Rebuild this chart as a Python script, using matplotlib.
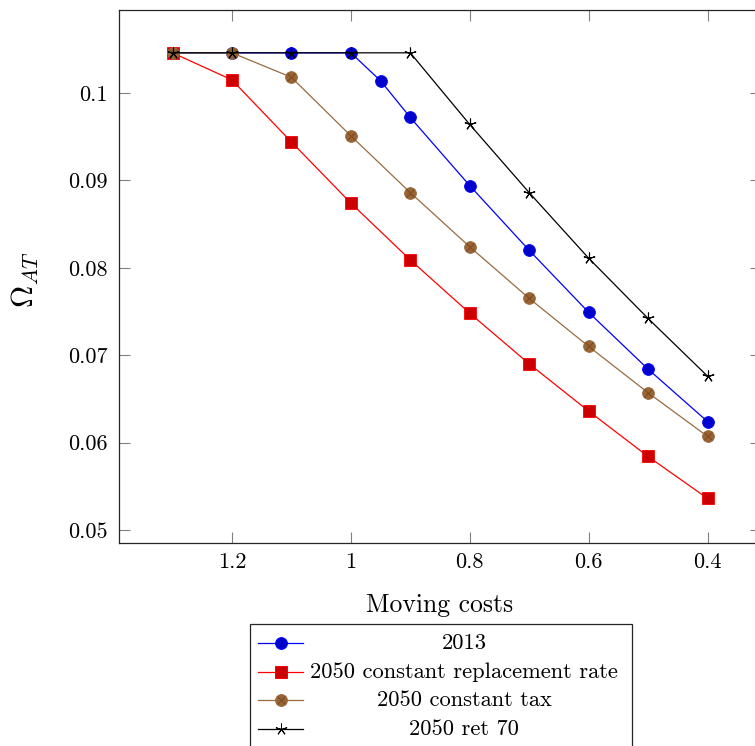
import matplotlib
matplotlib.use("Agg")
import matplotlib.pyplot as plt
from matplotlib.lines import Line2D
from matplotlib.patches import Rectangle

plt.rcParams['font.family'] = ['cmr10', 'DejaVu Serif']
plt.rcParams['mathtext.fontset'] = 'cm'
plt.rcParams['axes.formatter.use_mathtext'] = True

# ---- data ----
x_2013 = [1.3, 1.2, 1.1, 1.0, 0.95, 0.9, 0.8, 0.7, 0.6, 0.5, 0.4]
y_2013 = [0.1046, 0.1046, 0.1046, 0.1046, 0.1014, 0.0972, 0.0894, 0.0820, 0.0749, 0.0684, 0.0624]

x_rr = [1.3, 1.2, 1.1, 1.0, 0.9, 0.8, 0.7, 0.6, 0.5, 0.4]
y_rr = [0.1046, 0.1015, 0.0944, 0.0874, 0.0809, 0.0748, 0.0690, 0.0636, 0.0584, 0.0536]

x_tax = [1.3, 1.2, 1.1, 1.0, 0.9, 0.8, 0.7, 0.6, 0.5, 0.4]
y_tax = [0.1046, 0.1046, 0.1018, 0.0951, 0.0886, 0.0824, 0.0765, 0.0710, 0.0657, 0.0607]

x_r70 = [1.3, 1.2, 1.1, 1.0, 0.9, 0.8, 0.7, 0.6, 0.5, 0.4]
y_r70 = [0.1046, 0.1046, 0.1046, 0.1046, 0.1046, 0.0964, 0.0886, 0.0811, 0.0742, 0.0676]

labels = ['2013', '2050 constant replacement rate', '2050 constant tax', '2050 ret 70']
xticks = [1.2, 1.0, 0.8, 0.6, 0.4]
xticklabels = ['1.2', '1', '0.8', '0.6', '0.4']
yticks = [0.05, 0.06, 0.07, 0.08, 0.09, 0.1]
yticklabels = ['0.05', '0.06', '0.07', '0.08', '0.09', '0.1']

# ---- styles ----
BLUE, BLUE_F = (0, 0, 1), (0, 0, 0.8)
RED, RED_F = (1, 0, 0), (0.8, 0, 0)
BROWN, BROWN_F = (0.6, 0.42, 0.25), (0.6, 0.39, 0.2)
BLACK = (0, 0, 0)
STAR = (5, 2, 0)

W, H = 755, 746
fig = plt.figure(figsize=(W / 100, H / 100), dpi=100)
ax = fig.add_axes([119 / W, 1 - 543 / H, (761 - 119) / W, (543 - 10) / H])

lw = 0.9
ms = 8.5
ax.plot(x_2013, y_2013, color=BLUE, lw=lw, marker='o', ms=ms, mfc=BLUE_F, mec=BLUE, mew=0.6)
ax.plot(x_rr, y_rr, color=RED, lw=lw, marker='s', ms=ms - 0.5, mfc=RED_F, mec=RED, mew=0.6)
ax.plot(x_tax, y_tax, color=BROWN, lw=lw, marker='o', ms=ms, mfc=BROWN_F, mec=BROWN, mew=0.6)
ax.plot(x_tax, y_tax, color=(0.45, 0.28, 0.12), lw=0, marker='x', ms=ms * 0.62, mew=0.6)
ax.plot(x_r70, y_r70, color=BLACK, lw=lw, marker=STAR, ms=ms, mew=0.8)

ax.set_xlim(1.39, 0.31)
ax.set_ylim(0.0485, 0.1095)
ax.set_xticks(xticks)
ax.set_xticklabels(xticklabels)
ax.set_yticks(yticks)
ax.set_yticklabels(yticklabels)
ax.tick_params(direction='in', length=8, width=0.8, color=(0.5, 0.5, 0.5),
               top=True, right=True, labelsize=16)
ax.tick_params(axis='x', pad=7)
ax.tick_params(axis='y', pad=8)
for s in ax.spines.values():
    s.set_linewidth(0.9)
    s.set_color((0.15, 0.15, 0.15))

ax.set_xlabel('Moving costs', fontsize=18.5)
ax.xaxis.set_label_coords(0.5, -0.094)
ax.set_ylabel(r'$\Omega_{AT}$', fontsize=22)
ax.yaxis.set_label_coords(-0.1215, 0.493)

# ---- legend (pgfplots style, centred text) ----
lx0, lx1, ltop = 250, 632, 624
fig.patches.append(Rectangle((lx0 / W, 1 - 760 / H), (lx1 - lx0) / W, (760 - ltop) / H,
                             transform=fig.transFigure, fill=False, lw=0.9,
                             ec=(0.15, 0.15, 0.15), clip_on=False))
rows = [643, 672, 700, 729]
styles = [
    dict(color=BLUE, marker='o', mfc=BLUE_F, mec=BLUE, ms=ms),
    dict(color=RED, marker='s', mfc=RED_F, mec=RED, ms=ms - 0.5),
    dict(color=BROWN, marker='o', mfc=BROWN_F, mec=BROWN, ms=ms),
    dict(color=BLACK, marker=STAR, ms=ms),
]
for ry, lab, st in zip(rows, labels, styles):
    yy = 1 - ry / H
    fig.lines.append(Line2D([258 / W, 303 / W], [yy, yy], transform=fig.transFigure,
                            lw=lw, **{k: v for k, v in st.items() if k not in ('marker', 'mfc', 'mec', 'ms')}))
    fig.lines.append(Line2D([281 / W], [yy], transform=fig.transFigure, lw=0, mew=0.7, **st))
    if lab == '2050 constant tax':
        fig.lines.append(Line2D([281 / W], [yy], transform=fig.transFigure, lw=0,
                                marker='x', ms=ms * 0.62, mew=0.6, color=(0.45, 0.28, 0.12)))
    fig.text(464 / W, yy, lab, ha='center', va='center', fontsize=16.2)

fig.savefig('out.png', dpi=100)
